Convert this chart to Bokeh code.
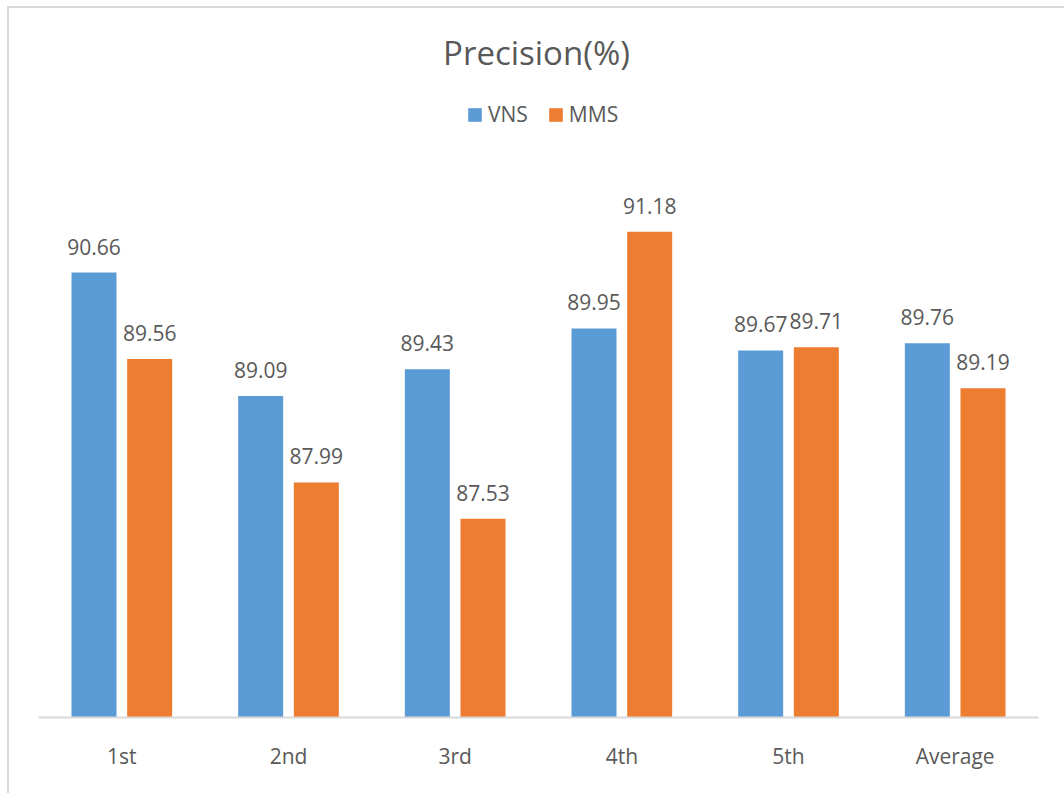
from bokeh.plotting import figure
from bokeh.models import ColumnDataSource, FactorRange, Range1d, Legend, LegendItem, Label, LabelSet
from bokeh.core.properties import value
from bokeh.transform import dodge
from bokeh.embed import file_html
from bokeh.resources import INLINE

categories = ["1st", "2nd", "3rd", "4th", "5th", "Average"]
vns = [90.66, 89.09, 89.43, 89.95, 89.67, 89.76]
mms = [89.56, 87.99, 87.53, 91.18, 89.71, 89.19]
series_names = ["VNS", "MMS"]
title_text = "Precision(%)"
y_min = 85
# headroom above the value area holds the title and the legend
y_max = 94.02

BLUE = "#5B9BD5"
ORANGE = "#ED7D31"
TEXT = "#595959"
FONT = "Open Sans"

src = ColumnDataSource(dict(
    cat=categories,
    vns=vns,
    mms=mms,
    vns_txt=[f"{v:.2f}" for v in vns],
    mms_txt=[f"{v:.2f}" for v in mms],
))

p = figure(
    x_range=FactorRange(*categories, range_padding=0),
    y_range=Range1d(y_min, y_max),
    width=1062, height=787,
    min_border_left=29, min_border_right=33,
    min_border_top=0, min_border_bottom=78,
    output_backend="svg", toolbar_location=None,
    background_fill_color="white", border_fill_color="white",
    outline_line_color=None,
)
p.styles = {
    "margin-left": "7px", "margin-top": "6px",
    "border-left": "2px solid #D9D9D9", "border-top": "2px solid #D9D9D9",
}

bw = 0.27
off = 0.167
r1 = p.vbar(x=dodge("cat", -off, range=p.x_range), top="vns", bottom=y_min,
            width=bw, source=src, fill_color=BLUE, line_color=None)
r2 = p.vbar(x=dodge("cat", off, range=p.x_range), top="mms", bottom=y_min,
            width=bw, source=src, fill_color=ORANGE, line_color=None)

for col, txt, dx in (("vns", "vns_txt", -off), ("mms", "mms_txt", off)):
    p.add_layout(LabelSet(
        x=dodge("cat", dx, range=p.x_range), y=col, text=txt, source=src,
        text_align="center", text_baseline="alphabetic", y_offset=18,
        text_font=value(FONT), text_font_size="21px", text_color=TEXT,
    ))

p.yaxis.visible = False
p.xgrid.grid_line_color = None
p.ygrid.grid_line_color = None
xa = p.xaxis[0]
xa.axis_line_color = "#D9D9D9"
xa.axis_line_width = 2
xa.major_tick_line_color = None
xa.minor_tick_line_color = None
xa.major_label_text_font = FONT
xa.major_label_text_font_size = "21px"
xa.major_label_text_color = TEXT
xa.major_label_standoff = 18

p.add_layout(Label(
    x=498, y=665, x_units="screen", y_units="screen",
    text=title_text, text_align="center", text_baseline="middle",
    text_font=FONT, text_font_size="33px", text_color=TEXT,
))

legend = Legend(
    items=[LegendItem(label=series_names[0], renderers=[r1]),
           LegendItem(label=series_names[1], renderers=[r2])],
    orientation="horizontal",
    location=(428, 589),
    label_text_font=FONT, label_text_font_size="21px", label_text_color=TEXT,
    glyph_width=17, glyph_height=17, label_standoff=5, spacing=19,
    padding=0, margin=0,
    background_fill_alpha=0, border_line_color=None,
)
p.add_layout(legend, "center")

open("out.html", "w").write(file_html(p, INLINE))
